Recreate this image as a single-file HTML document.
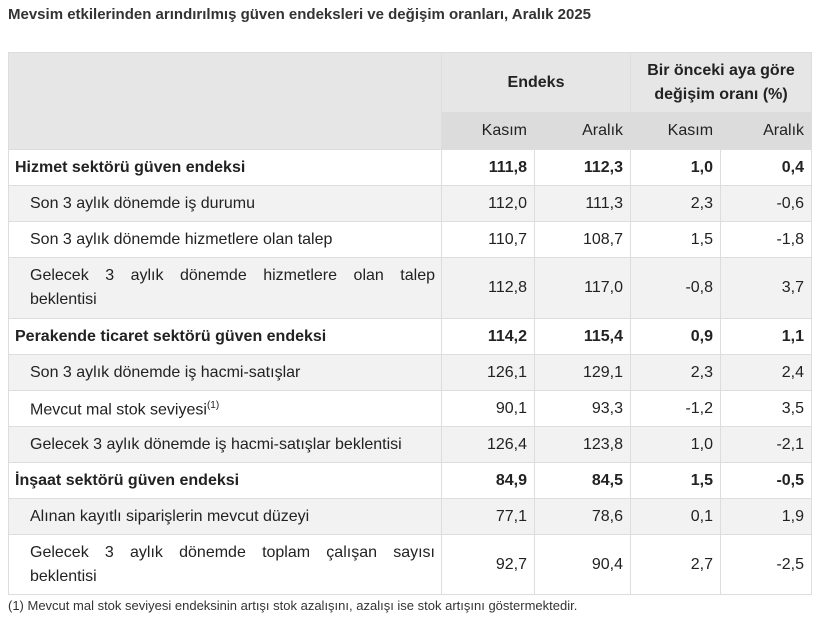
<!DOCTYPE html>
<html><head><meta charset="utf-8"><style>
body{margin:0;background:#fff;width:820px;height:623px;overflow:hidden;font-family:"Liberation Sans",sans-serif;color:#222;position:relative}
.t{position:absolute;left:8px;top:6px;font-size:15px;font-weight:bold;color:#333}
table{position:absolute;left:8px;top:52px;border-collapse:collapse;width:803px;font-size:16px;table-layout:fixed}
td,th{border:1px solid #ddd;padding:0 7px;text-align:right}
th{background:#e6e6e6;font-weight:bold}
tr.s th{background:#dcdcdc;font-weight:normal}
td.l{text-align:left;padding-left:6px}
td.i{text-align:left;padding-left:21px;padding-right:6px;line-height:24px}
.j{display:block;text-align:justify;text-align-last:justify}
tr.b td{font-weight:bold}
tbody tr:nth-child(even) td{background:#f2f2f2}
.f{position:absolute;left:8px;top:598px;font-size:13px;color:#333}
</style></head><body>
<div class="t">Mevsim etkilerinden arındırılmış güven endeksleri ve değişim oranları, Aralık 2025</div>
<table>
<colgroup><col style="width:433px"><col style="width:93px"><col style="width:96px"><col style="width:90px"><col style="width:91px"></colgroup>
<thead>
<tr style="height:60px"><th rowspan="2" style="background:#e6e6e6"></th><th colspan="2" style="text-align:center">Endeks</th><th colspan="2" style="text-align:center;line-height:24px">Bir önceki aya göre değişim oranı (%)</th></tr>
<tr class="s" style="height:37px"><th>Kasım</th><th>Aralık</th><th>Kasım</th><th>Aralık</th></tr>
</thead>
<tbody>
<tr class="b" style="height:36px"><td class="l">Hizmet sektörü güven endeksi</td><td>111,8</td><td>112,3</td><td>1,0</td><td>0,4</td></tr>
<tr style="height:36px"><td class="i">Son 3 aylık dönemde iş durumu</td><td>112,0</td><td>111,3</td><td>2,3</td><td>-0,6</td></tr>
<tr style="height:36px"><td class="i">Son 3 aylık dönemde hizmetlere olan talep</td><td>110,7</td><td>108,7</td><td>1,5</td><td>-1,8</td></tr>
<tr style="height:61px"><td class="i"><span class="j">Gelecek 3 aylık dönemde hizmetlere olan talep</span>beklentisi</td><td>112,8</td><td>117,0</td><td>-0,8</td><td>3,7</td></tr>
<tr class="b" style="height:36px"><td class="l">Perakende ticaret sektörü güven endeksi</td><td>114,2</td><td>115,4</td><td>0,9</td><td>1,1</td></tr>
<tr style="height:36px"><td class="i">Son 3 aylık dönemde iş hacmi-satışlar</td><td>126,1</td><td>129,1</td><td>2,3</td><td>2,4</td></tr>
<tr style="height:36px"><td class="i">Mevcut mal stok seviyesi<sup style="font-size:10px">(1)</sup></td><td>90,1</td><td>93,3</td><td>-1,2</td><td>3,5</td></tr>
<tr style="height:36px"><td class="i">Gelecek 3 aylık dönemde iş hacmi-satışlar beklentisi</td><td>126,4</td><td>123,8</td><td>1,0</td><td>-2,1</td></tr>
<tr class="b" style="height:36px"><td class="l">İnşaat sektörü güven endeksi</td><td>84,9</td><td>84,5</td><td>1,5</td><td>-0,5</td></tr>
<tr style="height:36px"><td class="i">Alınan kayıtlı siparişlerin mevcut düzeyi</td><td>77,1</td><td>78,6</td><td>0,1</td><td>1,9</td></tr>
<tr style="height:60px"><td class="i"><span class="j">Gelecek 3 aylık dönemde toplam çalışan sayısı</span>beklentisi</td><td>92,7</td><td>90,4</td><td>2,7</td><td>-2,5</td></tr>
</tbody></table>
<div class="f">(1) Mevcut mal stok seviyesi endeksinin artışı stok azalışını, azalışı ise stok artışını göstermektedir.</div>
</body></html>
